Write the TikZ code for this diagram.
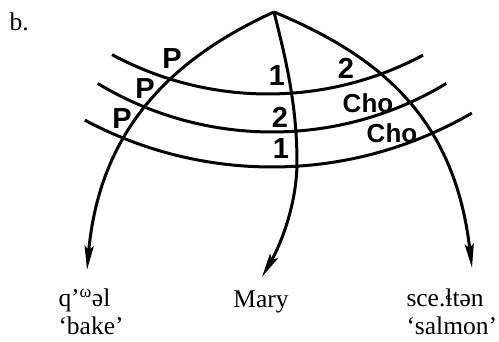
\documentclass[tikz,border=0pt]{standalone}
\usepackage{fontspec}
\setmainfont{Liberation Serif}
\newfontfamily\letterfont{Liberation Sans}
\usetikzlibrary{arrows.meta}

\begin{document}
\begin{tikzpicture}[x=1pt, y=1pt, line width=3pt,
    branch/.style={-{Stealth[length=24pt, width=9pt, inset=4pt]}},
    word/.style={font=\fontsize{25.5}{28}\selectfont, inner sep=0pt, align=left},
    tag/.style={font=\letterfont\bfseries\fontsize{29}{29}\selectfont, inner sep=0pt},
    cho/.style={tag, font=\letterfont\bfseries\fontsize{26}{26}\selectfont}]
  \useasboundingbox (0,0) rectangle (499,342);

  % apex and arrow tips
  \coordinate (top) at (274,330);
  \coordinate (tipL) at (87,72);
  \coordinate (tipM) at (262,65);
  \coordinate (tipR) at (472,74);

  % the three layers
  \draw (268,577) ++(241.7:329) arc[start angle=241.7, end angle=298.1, radius=329];
  \draw (272,547.5) ++(238.9:337.5) arc[start angle=238.9, end angle=301.1, radius=337.5];
  \draw (272,572.3) ++(241.9:397.3) arc[start angle=241.9, end angle=300.2, radius=397.3];

  % the three branches
  \draw[branch] (top) .. controls (175,285) and (100,215) .. (tipL);
  \draw[branch] (top) .. controls (284,290) and (297,240) .. (297,180)
    .. controls (297,140) and (282,100) .. (tipM);
  \draw[branch] (top) .. controls (385,284) and (455,220) .. (tipR);

  % labels on the layers
  \node[tag] (p1) at (172,283) {P};
  \node[tag] (p2) at (145,253) {P};
  \node[tag] (p3) at (122,223) {P};
  \node[tag] (m1) at (277,266) {1};
  \node[tag] (m2) at (280,225) {2};
  \node[tag] (m3) at (281,193) {1};
  \node[tag] (r1) at (346,274) {2};
  \node[cho] (r2) at (368,239) {Cho};
  \node[cho] (r3) at (392,209) {Cho};

  % words
  \node[word, anchor=base west] (part) at (8,311) {b.};
  \node[word, anchor=base west] (bake) at (57,7) {q’\textsuperscript{ω}əl\\‘bake’};
  \node[word, anchor=base] (mary) at (261,34) {Mary};
  \node[word, anchor=base west] (salmon) at (405,7) {sce.ɬtən\\‘salmon’};
\end{tikzpicture}
\end{document}
